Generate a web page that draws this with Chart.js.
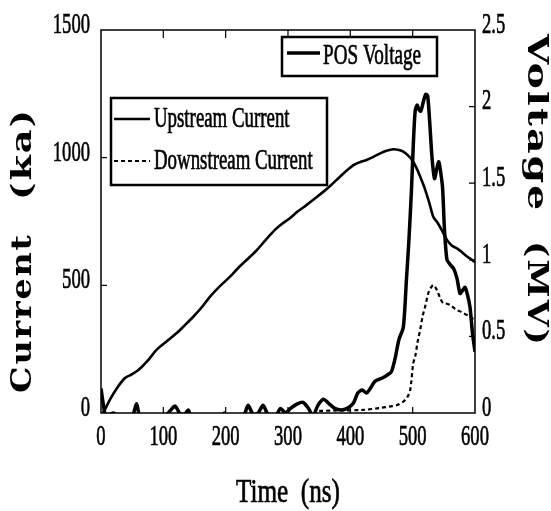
<!DOCTYPE html>
<html>
<head>
<meta charset="utf-8">
<script src="https://cdn.jsdelivr.net/npm/chart.js@4.4.1/dist/chart.umd.min.js"></script>
<style>
  html, body { margin: 0; padding: 0; background: #fff; }
  #wrap { width: 551px; height: 511px; }
</style>
</head>
<body>
<div id="wrap"><canvas id="chart" width="551" height="511"></canvas></div>
<script>
// tick values
const timeTicks = [0, 100, 200, 300, 400, 500, 600];
const currentTicks = [0, 500, 1000, 1500];
const voltageTicks = [0, 0.5, 1, 1.5, 2, 2.5];

// POS voltage (MV) vs time (ns)
const voltageTime = [0, 4, 8, 20, 30, 50, 57, 64, 100, 112, 119, 126, 134, 140, 146, 190, 198, 202, 228, 236, 244, 252, 260, 268, 280, 288, 296, 304, 315, 324, 333, 340, 348, 357, 366, 375, 385, 395, 405, 412, 419, 426, 432, 438, 443, 452, 460, 466, 472, 478, 485, 490, 494, 498, 501, 504, 507, 510, 513, 517, 521, 524, 527, 531, 535, 539, 542, 545, 548, 551, 555, 560, 566, 571, 576, 580, 584, 588, 592, 596, 600];
const voltageMV = [0.16, 0.05, -0.02, 0.0, -0.03, -0.02, 0.06, -0.03, -0.03, 0.02, 0.045, 0.0, -0.01, 0.02, -0.03, -0.03, 0.0, -0.03, -0.02, 0.05, -0.01, 0.0, 0.05, -0.01, -0.02, 0.03, 0.0, 0.03, 0.06, 0.07, 0.03, -0.02, 0.05, 0.09, 0.06, 0.03, 0.02, 0.03, 0.065, 0.13, 0.15, 0.13, 0.16, 0.2, 0.215, 0.23, 0.25, 0.27, 0.36, 0.48, 0.56, 0.87, 1.13, 1.45, 1.75, 1.97, 2.01, 1.98, 1.97, 2.03, 2.08, 2.07, 1.92, 1.67, 1.53, 1.6, 1.64, 1.57, 1.47, 1.2, 1.0, 0.97, 0.94, 0.88, 0.78, 0.8, 0.82, 0.77, 0.69, 0.52, 0.4];

// upstream current (kA)
const upTime = [3, 6, 15, 25, 38, 50, 60, 75, 89, 105, 121, 135, 148, 162, 175, 190, 207, 220, 234, 250, 265, 279, 290, 303, 316, 330, 344, 357, 368, 378, 392, 405, 416, 426, 437, 448, 458, 469, 478, 485, 492, 499, 506, 512, 520, 527, 533, 540, 548, 555, 563, 571, 580, 588, 595, 600];
const upCurrent = [0, 12, 55, 95, 136, 152, 168, 205, 247, 280, 312, 345, 377, 415, 456, 495, 534, 568, 600, 638, 680, 717, 740, 763, 790, 815, 842, 867, 890, 913, 945, 971, 983, 991, 1003, 1017, 1027, 1033, 1030, 1024, 1010, 991, 960, 926, 875, 820, 769, 745, 710, 678, 655, 645, 628, 612, 600, 590];

// downstream current (kA)
const downTime = [350, 380, 420, 448, 465, 475, 485, 491, 496, 501, 504, 508, 512, 516, 520, 525, 529, 533, 537, 541, 545, 549, 555, 560, 566, 571, 577, 582, 588, 595, 600];
const downCurrent = [8, 10, 12, 20, 26, 31, 45, 60, 90, 196, 220, 280, 325, 380, 416, 469, 490, 501, 490, 469, 445, 430, 428, 423, 412, 403, 397, 390, 383, 371, 365];

const SERIF = '"Liberation Serif", "Times New Roman", serif';
const INK = '#000';

function toPoints(xs, ys) {
  return xs.map((x, i) => ({ x: x, y: ys[i] }));
}

// draw text squeezed horizontally (the original uses a tall condensed face)
function squeeze(ctx, text, x, y, font, sx, align) {
  ctx.save();
  ctx.font = font;
  ctx.textAlign = align || 'left';
  ctx.textBaseline = 'middle';
  ctx.translate(x, y);
  ctx.scale(sx, 1);
  ctx.lineWidth = 0.7;
  ctx.fillText(text, 0, 0);
  ctx.strokeText(text, 0, 0);
  ctx.restore();
}

// one rotated word, stretched along its baseline to span a given length
function titleWord(ctx, text, cx, cy, angle, font, length) {
  ctx.save();
  ctx.font = font;
  ctx.letterSpacing = '1.5px';
  const w = ctx.measureText(text).width - 1.5;
  ctx.translate(cx, cy);
  ctx.rotate(angle);
  ctx.scale(length / w, 1);
  ctx.textAlign = 'left';
  ctx.textBaseline = 'middle';
  ctx.fillText(text, -w / 2, 0);
  ctx.restore();
}

const setTicks = list => scale => { scale.ticks = list.map(v => ({ value: v })); };

const framePlugin = {
  id: 'frame',
  afterDraw(chart) {
    const ctx = chart.ctx;
    const a = chart.chartArea;
    const sx = chart.scales.x, sy = chart.scales.y, sy1 = chart.scales.y1;
    ctx.save();
    ctx.fillStyle = INK;
    ctx.strokeStyle = INK;

    // frame
    ctx.lineWidth = 1.5;
    ctx.strokeRect(a.left, a.top, a.right - a.left, a.bottom - a.top);

    // inward tick marks
    ctx.lineWidth = 1.2;
    ctx.beginPath();
    sx.ticks.forEach(t => {
      if (t.value <= sx.min || t.value >= sx.max) return;
      const px = sx.getPixelForValue(t.value);
      ctx.moveTo(px, a.bottom); ctx.lineTo(px, a.bottom - 6);
      ctx.moveTo(px, a.top); ctx.lineTo(px, a.top + 8);
    });
    sy.ticks.forEach(t => {
      if (t.value <= sy.min || t.value >= sy.max) return;
      const py = sy.getPixelForValue(t.value);
      ctx.moveTo(a.left, py); ctx.lineTo(a.left + 6, py);
    });
    sy1.ticks.forEach(t => {
      if (t.value <= sy1.min || t.value >= sy1.max) return;
      const py = sy1.getPixelForValue(t.value);
      ctx.moveTo(a.right, py); ctx.lineTo(a.right - 6, py);
    });
    ctx.stroke();

    // tick labels
    const tickFont = '30px ' + SERIF;
    sx.ticks.forEach(t => {
      squeeze(ctx, String(t.value), sx.getPixelForValue(t.value), a.bottom + 24, tickFont, 0.62, 'center');
    });
    sy.ticks.forEach(t => {
      squeeze(ctx, String(t.value), a.left - 11, sy.getPixelForValue(t.value) - 5, tickFont, 0.62, 'right');
    });
    sy1.ticks.forEach(t => {
      squeeze(ctx, String(t.value), a.right + 7, sy1.getPixelForValue(t.value) - 5, tickFont, 0.62, 'left');
    });

    // axis titles
    squeeze(ctx, 'Time  (ns)', (a.left + a.right) / 2, 493, '34px ' + SERIF, 0.74, 'center');
    const titleFont = 'bold 27px "DejaVu Serif"';
    titleWord(ctx, 'Current', 24, 314, -Math.PI / 2, titleFont, 158);
    titleWord(ctx, '(ka)', 24, 155, -Math.PI / 2, titleFont, 90);
    titleWord(ctx, 'Voltage', 535, 122, Math.PI / 2, titleFont, 176);
    titleWord(ctx, '(MV)', 535, 293, Math.PI / 2, titleFont, 104);

    // legend boxes
    const legFont = '29px ' + SERIF;
    ctx.lineWidth = 2.5;
    ctx.strokeRect(282, 37, 155, 39);
    ctx.lineWidth = 3.5;
    ctx.beginPath(); ctx.moveTo(287, 53); ctx.lineTo(320, 53); ctx.stroke();
    squeeze(ctx, 'POS Voltage', 323, 56, legFont, 0.66, 'left');

    ctx.lineWidth = 2.5;
    ctx.strokeRect(111, 98, 216, 87);
    ctx.beginPath(); ctx.moveTo(114, 119); ctx.lineTo(150, 119); ctx.stroke();
    squeeze(ctx, 'Upstream Current', 154, 119, legFont, 0.65, 'left');
    ctx.lineWidth = 2;
    ctx.setLineDash([4, 3]);
    ctx.beginPath(); ctx.moveTo(114, 161); ctx.lineTo(150, 161); ctx.stroke();
    ctx.setLineDash([]);
    squeeze(ctx, 'Downstream Current', 154, 161, legFont, 0.65, 'left');

    ctx.restore();
  }
};

const hiddenAxis = {
  grid: { display: false },
  border: { display: false },
  ticks: { display: false }
};

new Chart(document.getElementById('chart'), {
  type: 'line',
  data: {
    datasets: [
      {
        label: 'POS Voltage',
        data: toPoints(voltageTime, voltageMV),
        yAxisID: 'y1',
        borderColor: INK,
        borderWidth: 3.5,
        pointRadius: 0,
        tension: 0.25,
        clip: 0
      },
      {
        label: 'Upstream Current',
        data: toPoints(upTime, upCurrent),
        yAxisID: 'y',
        borderColor: INK,
        borderWidth: 2.6,
        pointRadius: 0,
        tension: 0.3,
        clip: 0
      },
      {
        label: 'Downstream Current',
        data: toPoints(downTime, downCurrent),
        yAxisID: 'y',
        borderColor: INK,
        borderWidth: 2.2,
        borderDash: [4, 3],
        pointRadius: 0,
        tension: 0.3,
        clip: 0
      }
    ]
  },
  options: {
    responsive: false,
    animation: false,
    devicePixelRatio: 1,
    layout: { padding: { top: 30, left: 0, right: 0, bottom: 0 } },
    plugins: {
      legend: { display: false },
      tooltip: { enabled: false }
    },
    scales: {
      x: Object.assign({}, hiddenAxis, {
        type: 'linear',
        min: 0,
        max: 600,
        afterBuildTicks: setTicks(timeTicks),
        afterFit: s => { s.height = 98; }
      }),
      y: Object.assign({}, hiddenAxis, {
        position: 'left',
        min: 0,
        max: 1500,
        afterBuildTicks: setTicks(currentTicks),
        afterFit: s => { s.width = 101; }
      }),
      y1: Object.assign({}, hiddenAxis, {
        position: 'right',
        min: 0,
        max: 2.5,
        afterBuildTicks: setTicks(voltageTicks),
        afterFit: s => { s.width = 76; }
      })
    }
  },
  plugins: [framePlugin]
});
</script>
</body>
</html>
